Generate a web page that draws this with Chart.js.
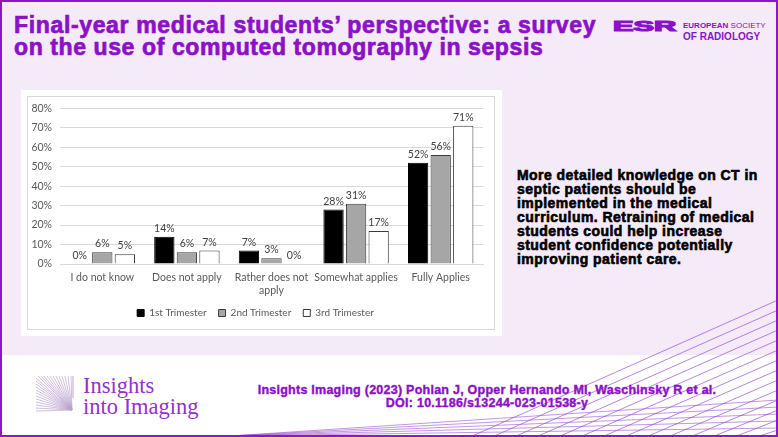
<!DOCTYPE html>
<html>
<head>
<meta charset="utf-8">
<script src="https://cdn.jsdelivr.net/npm/chart.js@4.4.1/dist/chart.umd.min.js"></script>
<style>
  html, body { margin: 0; padding: 0; }
  body {
    width: 778px; height: 437px; overflow: hidden; position: relative;
    background: #f4eaf8; font-family: "Liberation Sans", Arial, sans-serif;
  }
  .band { position: absolute; left: 0; top: 355px; width: 778px; height: 82px; background: #ffffff; }
  .frame {
    position: absolute; left: 0; top: 0; width: 778px; height: 437px; box-sizing: border-box;
    border: 2px solid #8a17c8; pointer-events: none; z-index: 10;
  }
  .title {
    position: absolute; left: 14px; top: 14px; font-size: 23px; line-height: 22px;
    font-weight: bold; color: #8b10c8; -webkit-text-stroke: 0.7px #8b10c8; white-space: nowrap;
  }
  .title .l1 { letter-spacing: 0.65px; }
  .title .l2 { letter-spacing: 0.6px; }
  .esr { position: absolute; left: 613px; top: 17px; color: #8b10c8; white-space: nowrap; }
  .esr .mark {
    position: absolute; left: 0; top: 0; display: inline-block; font-size: 15px; font-weight: 900;
    -webkit-text-stroke: 1.2px #8b10c8; transform: scale(2.05, 1); transform-origin: left top;
  }
  .esr .words { position: absolute; left: 70px; top: 1px; line-height: 9px; }
  .esr .w1 { font-size: 8px; }
  .esr .w2 { font-size: 10px; font-weight: bold; }
  .panel { position: absolute; left: 21px; top: 90px; width: 481px; height: 246px; background: #fff; }
  .box {
    position: absolute; left: 27px; top: 96px; width: 468px; height: 234px; box-sizing: border-box;
    border: 1px solid #d9d9d9;
  }
  .chartwrap { position: absolute; left: 28px; top: 94px; width: 466px; height: 235px; }
  .note {
    position: absolute; left: 517px; top: 168px; font-size: 14px; line-height: 14px; font-weight: bold;
    letter-spacing: 0.45px; color: #000; -webkit-text-stroke: 0.6px #000; white-space: nowrap;
  }
  .cite {
    position: absolute; left: 230px; top: 384px; width: 514px; text-align: center; font-size: 12.5px;
    line-height: 13px; font-weight: bold; letter-spacing: 0.25px; color: #8b10c8;
    -webkit-text-stroke: 0.4px #8b10c8; white-space: nowrap;
  }
  .journal {
    position: absolute; left: 83px; top: 375px; font-family: "Liberation Serif", serif; font-size: 22.5px;
    line-height: 21px; color: #9530cc; white-space: nowrap;
  }
  svg.deco { position: absolute; left: 0; top: 0; }
</style>
</head>
<body>
<div class="band"></div>
<svg class="deco" width="778" height="437" id="deco"></svg>

<div class="title"><span class="l1">Final-year medical students’ perspective: a survey</span><br><span class="l2">on the use of computed tomography in sepsis</span></div>
<div class="esr"><span class="mark">ESR</span><div class="words"><span class="w1"><b>EUROPEAN</b> SOCIETY</span><br><span class="w2">OF RADIOLOGY</span></div></div>

<div class="panel"></div>
<div class="box"></div>
<div class="chartwrap"><canvas id="surveyChart" width="466" height="235"></canvas></div>

<div class="note">More detailed knowledge on CT in<br>septic patients should be<br>implemented in the medical<br>curriculum. Retraining of medical<br>students could help increase<br>student confidence potentially<br>improving patient care.</div>

<div class="journal">Insights<br>into Imaging</div>
<div class="cite">Insights Imaging (2023) Pohlan J, Opper Hernando MI, Waschinsky R et al.<br>DOI: 10.1186/s13244-023-01538-y</div>
<div class="frame"></div>

<script>
const categories = ["I do not know", "Does not apply", ["Rather does not", "apply"], "Somewhat applies", "Fully Applies"];
const seriesNames = ["1st Trimester", "2nd Trimester", "3rd Trimester"];
const trimester1 = [0, 14, 7, 28, 52];
const trimester2 = [6, 6, 3, 31, 56];
const trimester3 = [5, 7, 0, 17, 71];
const yMax = 80;
const yStep = 10;

// decoration lines (bottom right fan + journal logo)
const svg = document.getElementById("deco");
function line(x1, y1, x2, y2, color, w) {
  const l = document.createElementNS("http://www.w3.org/2000/svg", "line");
  l.setAttribute("x1", x1); l.setAttribute("y1", y1);
  l.setAttribute("x2", x2); l.setAttribute("y2", y2);
  l.setAttribute("stroke", color); l.setAttribute("stroke-width", w);
  svg.appendChild(l);
}
for (let i = 0; i < 14; i++) {
  line(470 + i * 22, 437, 778, 300 + i * 10, "#9a4fd2", 0.7);
}
for (let i = 0; i < 5; i++) {
  line(230, 436, 778, 400 + i * 7, "#9a4fd2", 0.6);
}
for (let i = 0; i < 12; i++) {
  line(36, 378 + i * 3, 72, 410, "#b9a4cc", 0.7);
  line(38 + i * 3, 376, 72, 410, "#b9a4cc", 0.7);
}
line(73, 376, 73, 398, "#b9a4cc", 1);

const barValueLabels = {
  id: "barValueLabels",
  afterDatasetsDraw(chart) {
    const ctx = chart.ctx;
    ctx.save();
    ctx.font = "10.5px Lato";
    ctx.fillStyle = "#404040";
    ctx.textAlign = "center";
    ctx.textBaseline = "bottom";
    chart.data.datasets.forEach((ds, i) => {
      chart.getDatasetMeta(i).data.forEach((bar, j) => {
        ctx.fillText(ds.data[j] + "%", bar.x, bar.y - 3);
      });
    });
    ctx.restore();
  },
};

const ctx = document.getElementById("surveyChart").getContext("2d");
const surveyChart = new Chart(ctx, {
  type: "bar",
  data: {
    labels: categories,
    datasets: [
      { label: seriesNames[0], data: trimester1, backgroundColor: "#000000", borderColor: "#000000", borderWidth: 1 },
      { label: seriesNames[1], data: trimester2, backgroundColor: "#a6a6a6", borderColor: "#3a3a3a", borderWidth: 1 },
      { label: seriesNames[2], data: trimester3, backgroundColor: "#ffffff", borderColor: "#3a3a3a", borderWidth: 1 },
    ],
  },
  options: {
    responsive: false,
    animation: false,
    layout: { padding: { left: 0, right: 11, top: 0, bottom: 1 } },
    plugins: {
      legend: {
        position: "bottom",
        labels: {
          boxWidth: 7,
          boxHeight: 7,
          padding: 12,
          color: "#595959",
          font: { family: "Lato", size: 10 },
        },
      },
      tooltip: { enabled: false },
    },
    scales: {
      x: {
        grid: { display: false, drawTicks: false },
        border: { color: "#d9d9d9" },
        ticks: {
          color: "#595959",
          font: { family: "Lato", size: 10.5, lineHeight: 1.25 },
          padding: 7,
          maxRotation: 0,
          autoSkip: false,
        },
        afterFit: (scale) => { scale.height = 32; },
      },
      y: {
        min: 0,
        max: yMax,
        grid: { color: "#d9d9d9", drawTicks: false },
        border: { display: false },
        ticks: {
          stepSize: yStep,
          color: "#595959",
          font: { family: "Lato", size: 10.5 },
          padding: 8,
          callback: (v) => v + "%",
        },
        afterFit: (scale) => { scale.width = 32; },
      },
    },
  },
  plugins: [barValueLabels],
});
</script>
</body>
</html>
